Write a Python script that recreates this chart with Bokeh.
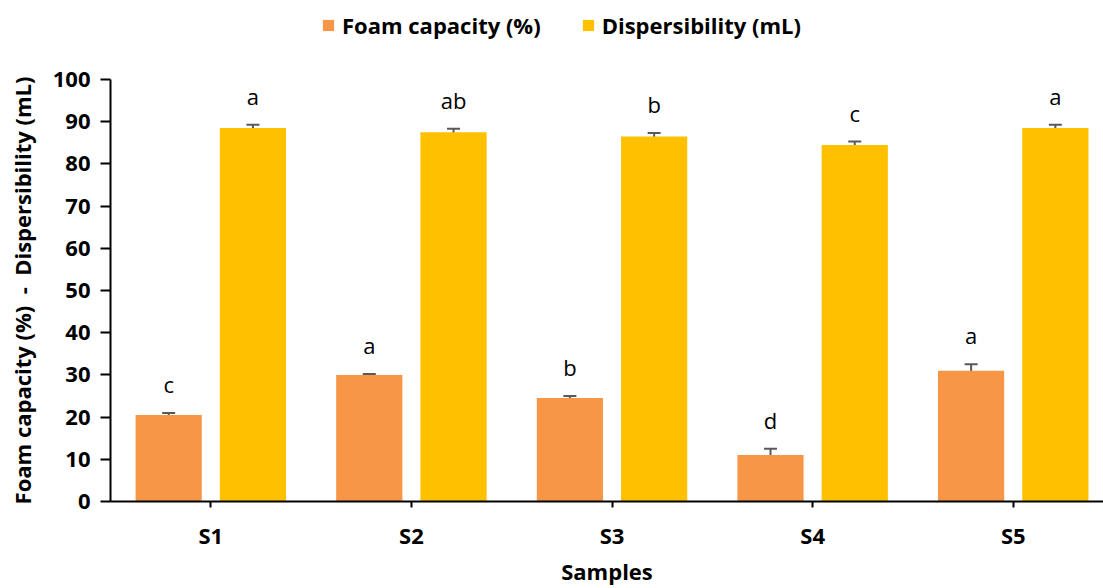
from bokeh.plotting import figure
from bokeh.layouts import column
from bokeh.models import (ColumnDataSource, Range1d, FixedTicker, Whisker, Legend, LegendItem)
from bokeh.embed import file_html
from bokeh.resources import INLINE

# ---- data ----
samples = ["S1", "S2", "S3", "S4", "S5"]
foam = [20.5, 30.0, 24.5, 11.0, 31.0]
foam_err = [0.5, 0.2, 0.5, 1.5, 1.5]
foam_letters = ["c", "a", "b", "d", "a"]
disp = [88.5, 87.5, 86.5, 84.5, 88.5]
disp_err = [0.8, 0.8, 0.8, 0.8, 0.8]
disp_letters = ["a", "ab", "b", "c", "a"]
y_ticks = [0, 10, 20, 30, 40, 50, 60, 70, 80, 90, 100]
series_names = ["Foam capacity (%)", "Dispersibility (mL)"]

FONT = "Open Sans"
ORANGE = "#F79646"
YELLOW = "#FFC000"

idx = list(range(len(samples)))
off = 0.21
bw = 0.33

def src(vals, errs, letters, shift):
    x = [i + shift for i in idx]
    return ColumnDataSource(dict(
        x=x, top=vals,
        lower=[v - e for v, e in zip(vals, errs)],
        upper=[v + e for v, e in zip(vals, errs)],
        ly=[v + e + 3.3 for v, e in zip(vals, errs)],
        letter=letters,
    ))

s_foam = src(foam, foam_err, foam_letters, -off)
s_disp = src(disp, disp_err, disp_letters, off)

# ---- legend strip (same bars, drawn out of view; only the legend shows) ----
pl = figure(width=1103, height=50, output_backend="svg", toolbar_location=None,
            x_range=Range1d(100, 101), y_range=Range1d(1000, 1001),
            min_border_left=0, min_border_right=0, min_border_top=0, min_border_bottom=0)
pl.axis.visible = False
pl.grid.visible = False
pl.outline_line_color = None
d1 = pl.vbar(x="x", top="top", width=bw, source=s_foam, fill_color=ORANGE, line_color=None)
d2 = pl.vbar(x="x", top="top", width=bw, source=s_disp, fill_color=YELLOW, line_color=None)
legend = Legend(items=[LegendItem(label=series_names[0], renderers=[d1], index=0),
                       LegendItem(label=series_names[1], renderers=[d2], index=0)],
                orientation="horizontal", location=(211, 10),
                border_line_color=None, background_fill_alpha=0,
                label_text_font=FONT, label_text_font_style="bold",
                label_text_font_size="22px", label_text_color="#000000",
                glyph_width=14, glyph_height=14, label_standoff=7, spacing=40,
                padding=5, margin=0, label_height=24)
pl.add_layout(legend, "center")

# ---- main chart ----
p = figure(frame_width=993, frame_height=422, output_backend="svg", toolbar_location=None,
           x_range=Range1d(-0.5, 4.45), y_range=Range1d(0, 100),
           min_border_left=110, min_border_right=0, min_border_top=29, min_border_bottom=0)
p.outline_line_color = None
p.xgrid.visible = False
p.ygrid.visible = False

p.vbar(x="x", top="top", width=bw, source=s_foam, fill_color=ORANGE, line_color=None)
p.vbar(x="x", top="top", width=bw, source=s_disp, fill_color=YELLOW, line_color=None)

for s in (s_foam, s_disp):
    w = Whisker(base="x", lower="lower", upper="upper", source=s,
                line_color="#595959", line_width=2)
    for h in (w.upper_head, w.lower_head):
        h.size = 13
        h.line_color = "#595959"
        h.line_width = 2
    p.add_layout(w)
    p.text(x="x", y="ly", text="letter", source=s, text_align="center",
           text_baseline="bottom", text_font_size="22px", text_color="#000000",
           text_font={"value": FONT})

p.xaxis.ticker = FixedTicker(ticks=idx)
p.xaxis.major_label_overrides = {i: s for i, s in zip(idx, samples)}
p.yaxis.ticker = FixedTicker(ticks=y_ticks)
for ax in (p.xaxis[0], p.yaxis[0]):
    ax.axis_line_color = "#000000"
    ax.axis_line_width = 2
    ax.major_tick_line_color = "#000000"
    ax.major_tick_line_width = 2
    ax.minor_tick_line_color = None
    ax.major_tick_in = 0
    ax.major_label_text_font = FONT
    ax.major_label_text_font_style = "bold"
    ax.major_label_text_font_size = "22px"
    ax.major_label_text_color = "#000000"
    ax.axis_label_text_font = FONT
    ax.axis_label_text_font_style = "bold"
    ax.axis_label_text_font_size = "22px"
    ax.axis_label_text_color = "#000000"

p.xaxis.major_tick_out = 6
p.xaxis.major_label_standoff = 12
p.xaxis.axis_label = "Samples"
p.xaxis.axis_label_standoff = 3
p.yaxis.major_tick_out = 10
p.yaxis.major_label_standoff = 10
p.yaxis.axis_label = "Foam capacity (%)\u00a0 -\u00a0 Dispersibility (mL)"
p.yaxis.axis_label_standoff = 13

layout = column(pl, p, spacing=0)
open("out.html", "w").write(file_html(layout, INLINE))
